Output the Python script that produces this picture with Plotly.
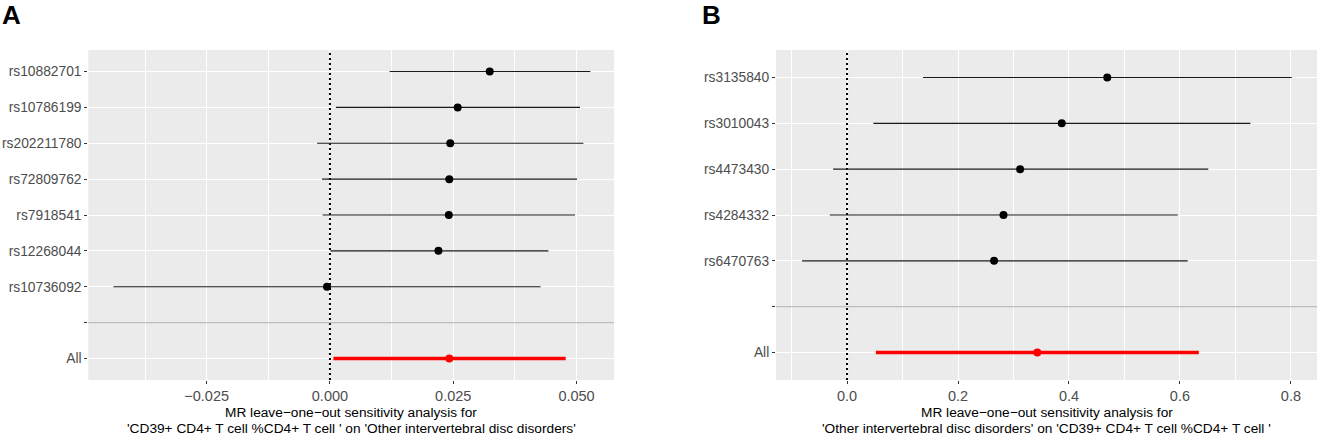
import plotly.graph_objects as go

# ---- data ----
# panel A, SNPs listed top to bottom
snps_a = ["rs10882701", "rs10786199", "rs202211780", "rs72809762",
          "rs7918541", "rs12268044", "rs10736092"]
b_a = [0.0324, 0.0259, 0.0244, 0.0242, 0.0241, 0.0220, -0.0006]
lo_a = [0.0121, 0.0012, -0.0026, -0.0016, -0.0015, 0.0001, -0.0439]
hi_a = [0.0528, 0.0507, 0.0514, 0.0501, 0.0497, 0.0443, 0.0427]
all_a = [0.0242, 0.0007, 0.0478]  # b, lo, hi

# panel B
snps_b = ["rs3135840", "rs3010043", "rs4473430", "rs4284332", "rs6470763"]
b_b = [0.469, 0.387, 0.312, 0.282, 0.265]
lo_b = [0.137, 0.0475, -0.025, -0.031, -0.081]
hi_b = [0.8015, 0.727, 0.651, 0.596, 0.614]
all_b = [0.343, 0.052, 0.634]

title_a = ["MR leave\u2212one\u2212out sensitivity analysis for",
           "'CD39+ CD4+ T cell %CD4+ T cell ' on 'Other intervertebral disc disorders'"]
title_b = ["MR leave\u2212one\u2212out sensitivity analysis for",
           "'Other intervertebral disc disorders' on 'CD39+ CD4+ T cell %CD4+ T cell '"]

W, H = 1317, 437
FONT = "Liberation Sans, Arial, sans-serif"


def py(p):
    return 1 - p / H


def px(p):
    return p / W


fig = go.Figure()


def add_panel(n, snps, b, lo, hi, overall, xrange, dtick, fmt, xdom, titles, letter, letter_x):
    xa = "x" if n == 1 else "x%d" % n
    ya = "y" if n == 1 else "y%d" % n
    labels = ["All", ""] + snps[::-1]  # bottom to top
    ypos = [labels.index(s) for s in snps]
    yrange = [-0.6, len(labels) - 0.4]

    # dotted zero line, drawn first so the bars sit on it
    fig.add_trace(go.Scatter(x=[0, 0], y=yrange, mode="lines", xaxis=xa, yaxis=ya,
                             line=dict(color="black", width=2, dash="2px,3px"),
                             hoverinfo="skip"))
    # grey line on the empty row
    fig.add_shape(type="line", xref=xa + " domain", yref=ya, x0=0, x1=1,
                  y0=labels.index(""), y1=labels.index(""),
                  line=dict(color="#BEBEBE", width=1.2), layer="above")

    xs, ys = [], []
    for l, h, y in zip(lo, hi, ypos):
        xs += [l, h, None]
        ys += [y, y, None]
    fig.add_trace(go.Scatter(x=xs, y=ys, mode="lines", xaxis=xa, yaxis=ya,
                             line=dict(color="#1a1a1a", width=1.1), hoverinfo="skip"))
    fig.add_trace(go.Scatter(x=b, y=ypos, mode="markers", xaxis=xa, yaxis=ya,
                             marker=dict(color="black", size=8)))
    y_all = labels.index("All")
    fig.add_trace(go.Scatter(x=[overall[1], overall[2]], y=[y_all, y_all], mode="lines",
                             xaxis=xa, yaxis=ya, line=dict(color="red", width=3.6),
                             hoverinfo="skip"))
    fig.add_trace(go.Scatter(x=[overall[0]], y=[y_all], mode="markers", xaxis=xa, yaxis=ya,
                             marker=dict(color="red", size=8)))

    axis_common = dict(ticks="outside", ticklen=3, tickwidth=1, tickcolor="#333333",
                       showline=False, zeroline=False, gridcolor="white", gridwidth=1.1)
    fig.update_layout({
        ("xaxis" if n == 1 else "xaxis%d" % n): dict(
            axis_common, domain=xdom, range=xrange, dtick=dtick, tick0=0,
            tickformat=fmt, anchor=ya,
            tickfont=dict(family=FONT, size=14.5, color="#4D4D4D"),
            minor=dict(dtick=dtick / 2, tick0=0, showgrid=True, gridcolor="white",
                       gridwidth=0.5, ticks="")),
        ("yaxis" if n == 1 else "yaxis%d" % n): dict(
            axis_common, domain=[py(380), py(50)], range=yrange,
            tickmode="array", tickvals=list(range(len(labels))), ticktext=labels,
            tickfont=dict(family=FONT, size=13.8, color="#4D4D4D"),
            anchor=xa),
    })

    for i, t in enumerate(titles):
        fig.add_annotation(text=t, xref=xa + " domain", x=0.5, yref="paper",
                           y=py(412 + 16 * i), yanchor="middle", showarrow=False,
                           font=dict(family=FONT, size=13.7, color="black"))
    fig.add_annotation(text="<b>%s</b>" % letter, xref="paper", x=px(letter_x), xanchor="left",
                       yref="paper", y=py(15), yanchor="middle", showarrow=False,
                       font=dict(family=FONT, size=26, color="black"))


add_panel(1, snps_a, b_a, lo_a, hi_a, all_a, [-0.0490, 0.0576], 0.025, ".3f",
          [px(88.3), px(614)], title_a, "A", 0)
add_panel(2, snps_b, b_b, lo_b, hi_b, all_b, [-0.128, 0.847], 0.2, ".1f",
          [px(776), 1.0], title_b, "B", 700)

fig.update_layout(width=W, height=H, margin=dict(l=0, r=0, t=0, b=0),
                  paper_bgcolor="white", plot_bgcolor="#EBEBEB", showlegend=False)

# the page body has a default 8px margin; drop it so the figure fills the window
fig.write_html("out.html", config={"displayModeBar": False},
               post_script="document.body.style.margin='0';")
